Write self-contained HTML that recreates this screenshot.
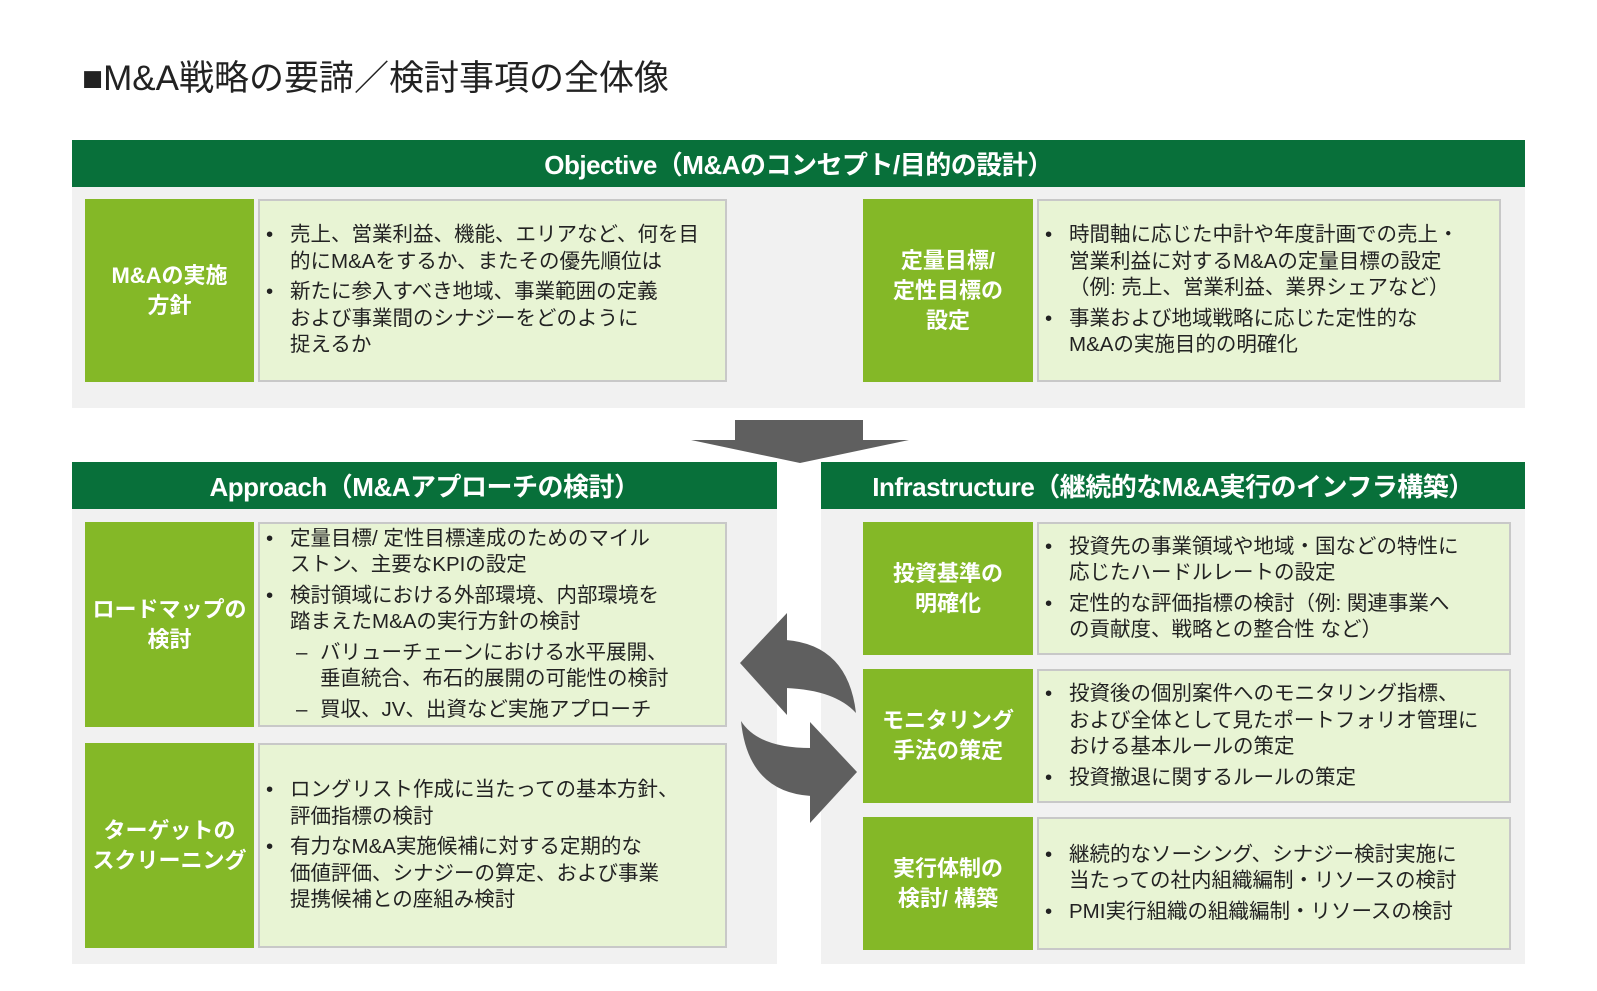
<!DOCTYPE html>
<html><head><meta charset="utf-8"><style>
body{margin:0;width:1597px;height:991px;background:#fff;position:relative;overflow:hidden;font-family:"Liberation Sans","Noto Sans CJK JP",sans-serif;}
.a{position:absolute;box-sizing:border-box;}
.gray{background:#f1f1f1;}
.bar{background:#08703a;color:#fff;font-weight:bold;font-size:26px;display:flex;align-items:center;justify-content:center;letter-spacing:-0.5px;}
.lab{background:#84b827;color:#fff;font-weight:bold;font-size:22px;line-height:30px;display:flex;align-items:center;justify-content:center;text-align:center;}
.txt{background:#e8f4d4;border:2px solid #c8c8c8;font-size:20.5px;line-height:26.5px;color:#222;display:flex;flex-direction:column;justify-content:center;padding:0 2px 0 30px;white-space:nowrap;letter-spacing:0;}
.txt p{margin:2px 0;position:relative;}
.txt p:before{content:"•";position:absolute;left:-24px;}
.txt p.d:before{content:"–";}
.txt p.d{padding-left:30px;}
.txt p.d:before{left:6px;}
</style></head><body>
<div class="a" style="left:82px;top:50px;font-size:35px;color:#222;">■M&amp;A戦略の要諦／検討事項の全体像</div>

<div class="a gray" style="left:72px;top:140px;width:1453px;height:268px;"></div>
<div class="a bar" style="left:72px;top:140px;width:1453px;height:47px;">Objective（M&amp;Aのコンセプト/目的の設計）</div>
<div class="a lab" style="left:85px;top:199px;width:169px;height:183px;">M&amp;Aの実施<br>方針</div>
<div class="a txt" style="left:258px;top:199px;width:469px;height:183px;">
<p>売上、営業利益、機能、エリアなど、何を目<br>的にM&amp;Aをするか、またその優先順位は</p>
<p>新たに参入すべき地域、事業範囲の定義<br>および事業間のシナジーをどのように<br>捉えるか</p></div>
<div class="a lab" style="left:863px;top:199px;width:170px;height:183px;">定量目標/<br>定性目標の<br>設定</div>
<div class="a txt" style="left:1037px;top:199px;width:464px;height:183px;">
<p>時間軸に応じた中計や年度計画での売上・<br>営業利益に対するM&amp;Aの定量目標の設定<br>（例: 売上、営業利益、業界シェアなど）</p>
<p>事業および地域戦略に応じた定性的な<br>M&amp;Aの実施目的の明確化</p></div>

<svg class="a" style="left:0;top:0" width="1597" height="991">
<rect x="735" y="420" width="128" height="21" fill="#5f5f5f"/>
<polygon points="691,440 909,440 800,463" fill="#5f5f5f"/>
</svg>

<div class="a gray" style="left:72px;top:462px;width:705px;height:502px;"></div>
<div class="a bar" style="left:72px;top:462px;width:705px;height:47px;">Approach（M&amp;Aアプローチの検討）</div>
<div class="a lab" style="left:85px;top:522px;width:169px;height:205px;">ロードマップの<br>検討</div>
<div class="a txt" style="left:258px;top:522px;width:469px;height:205px;">
<p>定量目標/ 定性目標達成のためのマイル<br>ストン、主要なKPIの設定</p>
<p>検討領域における外部環境、内部環境を<br>踏まえたM&amp;Aの実行方針の検討</p>
<p class="d">バリューチェーンにおける水平展開、<br>垂直統合、布石的展開の可能性の検討</p>
<p class="d">買収、JV、出資など実施アプローチ</p></div>
<div class="a lab" style="left:85px;top:743px;width:169px;height:205px;">ターゲットの<br>スクリーニング</div>
<div class="a txt" style="left:258px;top:743px;width:469px;height:205px;">
<p>ロングリスト作成に当たっての基本方針、<br>評価指標の検討</p>
<p>有力なM&amp;A実施候補に対する定期的な<br>価値評価、シナジーの算定、および事業<br>提携候補との座組み検討</p></div>

<div class="a gray" style="left:821px;top:462px;width:704px;height:502px;"></div>
<div class="a bar" style="left:821px;top:462px;width:704px;height:47px;">Infrastructure（継続的なM&amp;A実行のインフラ構築）</div>
<div class="a lab" style="left:863px;top:522px;width:170px;height:133px;">投資基準の<br>明確化</div>
<div class="a txt" style="left:1037px;top:522px;width:474px;height:133px;">
<p>投資先の事業領域や地域・国などの特性に<br>応じたハードルレートの設定</p>
<p>定性的な評価指標の検討（例: 関連事業へ<br>の貢献度、戦略との整合性 など）</p></div>
<div class="a lab" style="left:863px;top:669px;width:170px;height:134px;">モニタリング<br>手法の策定</div>
<div class="a txt" style="left:1037px;top:669px;width:474px;height:134px;">
<p>投資後の個別案件へのモニタリング指標、<br>および全体として見たポートフォリオ管理に<br>おける基本ルールの策定</p>
<p>投資撤退に関するルールの策定</p></div>
<div class="a lab" style="left:863px;top:817px;width:170px;height:133px;">実行体制の<br>検討/ 構築</div>
<div class="a txt" style="left:1037px;top:817px;width:474px;height:133px;">
<p>継続的なソーシング、シナジー検討実施に<br>当たっての社内組織編制・リソースの検討</p>
<p>PMI実行組織の組織編制・リソースの検討</p></div>

<svg class="a" style="left:0;top:0" width="1597" height="991">
<polygon points="740,663 787,613 787,715" fill="#5f5f5f"/>
<path d="M786,640 Q848,645 856,713 Q835,690 786,688 Z" fill="#5f5f5f"/>
<polygon points="857,772 810,722 810,823" fill="#5f5f5f"/>
<path d="M741,721 Q758,748 811,748 L811,796 Q748,792 741,721 Z" fill="#5f5f5f"/>
</svg>
</body></html>
